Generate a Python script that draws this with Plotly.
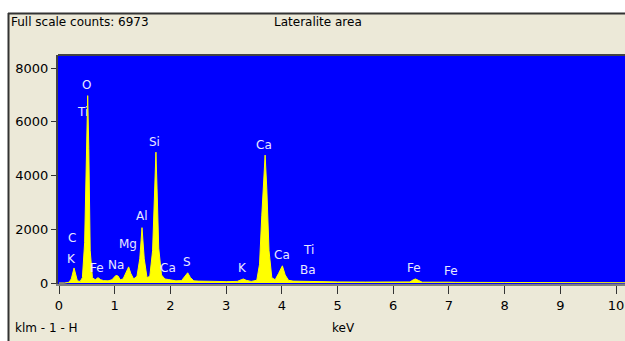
import plotly.graph_objects as go

# Spectrum points (keV, counts)
energy = [0.00, 0.10, 0.18, 0.22, 0.27, 0.30, 0.33, 0.38, 0.42, 0.46, 0.49, 0.515, 0.535, 0.56,
          0.60, 0.65, 0.70, 0.75, 0.80, 0.88, 0.95, 1.02, 1.06, 1.10, 1.15, 1.20, 1.25, 1.29,
          1.34, 1.40, 1.45, 1.49, 1.53, 1.58, 1.63, 1.68, 1.72, 1.74, 1.76, 1.79, 1.84, 1.90,
          1.96, 2.02, 2.10, 2.20, 2.27, 2.31, 2.36, 2.42, 2.50, 2.60, 2.80, 3.00, 3.20, 3.27,
          3.31, 3.36, 3.45, 3.55, 3.60, 3.64, 3.68, 3.70, 3.73, 3.77, 3.82, 3.88, 3.94, 4.01,
          4.06, 4.12, 4.20, 4.50, 5.00, 5.50, 6.00, 6.30, 6.36, 6.40, 6.45, 6.52, 7.00, 7.06,
          7.12, 8.00, 9.00, 10.00, 10.20]
counts = [0, 0, 30, 150, 560, 300, 80, 60, 200, 1500, 4500, 6973, 5000, 1200,
          200, 120, 200, 120, 90, 80, 120, 280, 260, 120, 150, 350, 600, 350,
          150, 250, 900, 2060, 900, 200, 250, 1200, 3500, 4870, 3500, 1300, 300, 150,
          130, 110, 80, 90, 250, 380, 200, 80, 70, 60, 60, 50, 60, 120,
          150, 100, 60, 100, 700, 2500, 4200, 4760, 3500, 1200, 200, 120, 350, 640,
          300, 100, 70, 50, 40, 35, 30, 40, 120, 150, 100, 30, 30, 40,
          25, 20, 15, 10, 10]

# Element labels (text, keV, counts)
label_text = ["O", "Ti", "Si", "Ca", "Al", "Mg", "C", "K", "Fe", "Na", "Ca", "S",
              "K", "Ca", "Ti", "Ba", "Fe", "Fe"]
label_x = [0.50, 0.43, 1.72, 3.68, 1.49, 1.24, 0.23, 0.23, 0.68, 1.02, 1.96, 2.30,
           3.30, 4.00, 4.47, 4.47, 6.37, 7.04]
label_y = [7360, 6360, 5240, 5130, 2490, 1450, 1670, 890, 560, 670, 560, 780,
           560, 1040, 1230, 480, 560, 450]

x_ticks = list(range(0, 11))
y_ticks = [0, 2000, 4000, 6000, 8000]

FONT = "DejaVu Sans"
W, H = 625, 341
L, R, T, B = 58, 0, 55, 57
pw, ph = W - L - R, H - T - B

def px(x):
    return (x - L) / pw

def py(y):
    return (H - B - y) / ph

def fnt(size, color):
    return dict(family=FONT, size=size, color=color)

fig = go.Figure()
fig.add_trace(go.Scatter(x=energy, y=counts, mode="lines", fill="tozeroy",
                         line=dict(color="#FFFF00", width=1), fillcolor="#FFFF00",
                         hoverinfo="skip", showlegend=False))

annotations = []
for t, x, y in zip(label_text, label_x, label_y):
    annotations.append(dict(x=x, y=y, xref="x", yref="y", text=t, showarrow=False,
                            font=fnt(12, "#E8E8FF")))

for t, x, y, anc in [("Full scale counts: 6973", 9, 22, "left"),
                     ("Lateralite area", 318, 22, "center"),
                     ("klm - 1 - H", 13, 328, "left"),
                     ("keV", 343, 328, "center")]:
    annotations.append(dict(x=px(x), y=py(y), xref="paper", yref="paper", text=t,
                            showarrow=False, xanchor=anc, yanchor="middle",
                            font=fnt(12, "#000000")))

shapes = [
    dict(type="rect", xref="paper", yref="paper", x0=px(-5), x1=px(W + 5), y0=py(13), y1=py(-5),
         fillcolor="white", line=dict(width=0), layer="below"),
    dict(type="rect", xref="paper", yref="paper", x0=px(-5), x1=px(8), y0=py(H + 5), y1=py(13),
         fillcolor="white", line=dict(width=0), layer="below"),
    dict(type="line", xref="paper", yref="paper", x0=px(8), x1=px(W + 5), y0=py(13.5), y1=py(13.5),
         line=dict(color="#333333", width=2)),
    dict(type="line", xref="paper", yref="paper", x0=px(8.5), x1=px(8.5), y0=py(13), y1=py(H + 5),
         line=dict(color="#333333", width=2)),
    dict(type="line", xref="paper", yref="paper", x0=0, x1=1, y0=1, y1=1,
         line=dict(color="#444444", width=2)),
]

fig.update_layout(
    width=W, height=H,
    margin=dict(l=L, r=R, t=T, b=B),
    paper_bgcolor="#ECE9D8", plot_bgcolor="#0000FF",
    annotations=annotations, shapes=shapes,
    xaxis=dict(range=[-0.018, 10.16], tickvals=x_ticks, ticks="outside", ticklen=8,
               tickcolor="#333333", showgrid=False, zeroline=False, showline=True,
               linecolor="#808080", linewidth=2, tickfont=fnt(13, "#000000")),
    yaxis=dict(range=[-37, 8484], tickvals=y_ticks, ticks="outside", ticklen=5,
               tickcolor="#333333", showgrid=False, zeroline=False, showline=True,
               linecolor="#444444", linewidth=2, tickfont=fnt(13, "#000000")),
)

post = "document.body.style.margin='0';document.body.style.overflow='hidden';"
fig.write_html("out.html", post_script=post, config={"displayModeBar": False})
